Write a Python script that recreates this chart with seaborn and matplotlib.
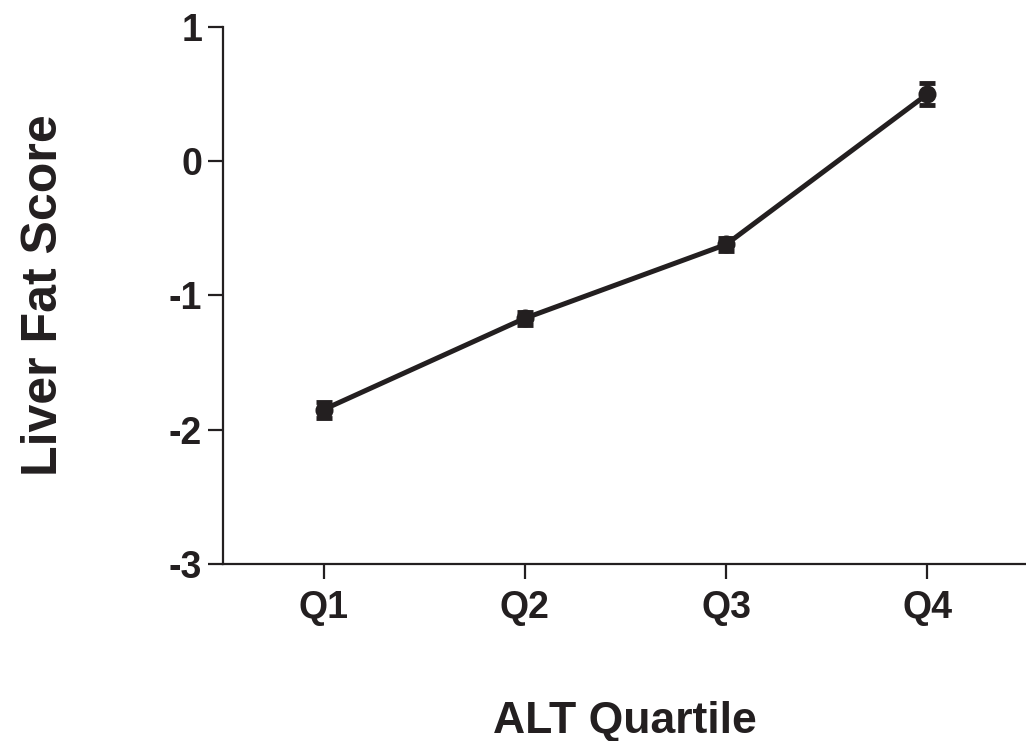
import matplotlib
matplotlib.use("Agg")
import matplotlib.pyplot as plt
import seaborn as sns
import pandas as pd

# ALT quartile summary: mean liver fat score and standard error
quartiles = ["Q1", "Q2", "Q3", "Q4"]
mean_score = [-1.85, -1.17, -0.62, 0.50]
sem_score = [0.06, 0.05, 0.05, 0.08]
y_ticks = [-3, -2, -1, 0, 1]

df = pd.DataFrame({"pos": range(len(quartiles)), "score": mean_score, "sem": sem_score})

ink = "#231f20"

sns.set_style("ticks")
plt.rcParams["font.family"] = ["Liberation Sans", "DejaVu Sans"]

fig = plt.figure(figsize=(10.26, 7.41), dpi=100)
ax = fig.add_axes([0.2173, 0.2389, 0.7827, 0.7247])

ax.errorbar(df["pos"], df["score"], yerr=df["sem"], fmt="none",
            ecolor=ink, elinewidth=3.5, capsize=6, capthick=3.5, zorder=3)
sns.lineplot(data=df, x="pos", y="score", ax=ax, color=ink,
             linewidth=3.6, marker="o", markersize=13, markeredgewidth=0,
             zorder=4)

ax.set_xlim(-0.5, 3.49)
ax.set_ylim(-3, 1)
ax.set_xticks(range(len(quartiles)))
ax.set_xticklabels(quartiles)
ax.set_yticks(y_ticks)
ax.set_yticklabels([str(t) for t in y_ticks])

for side in ("top", "right"):
    ax.spines[side].set_visible(False)
for side in ("left", "bottom"):
    ax.spines[side].set_linewidth(1.6)
    ax.spines[side].set_color(ink)

ax.tick_params(axis="both", direction="out", length=11, width=1.6,
               color=ink, labelsize=27, labelcolor=ink)
ax.tick_params(axis="x", pad=8)
ax.tick_params(axis="y", pad=4)
for lbl in ax.get_xticklabels() + ax.get_yticklabels():
    lbl.set_fontweight("bold")

ax.set_xlabel("ALT Quartile", fontsize=32, fontweight="bold",
              color=ink, labelpad=54)
ax.set_ylabel("Liver Fat Score", fontsize=36, fontweight="bold",
              color=ink, labelpad=73)

fig.savefig("out.png", dpi=100)
